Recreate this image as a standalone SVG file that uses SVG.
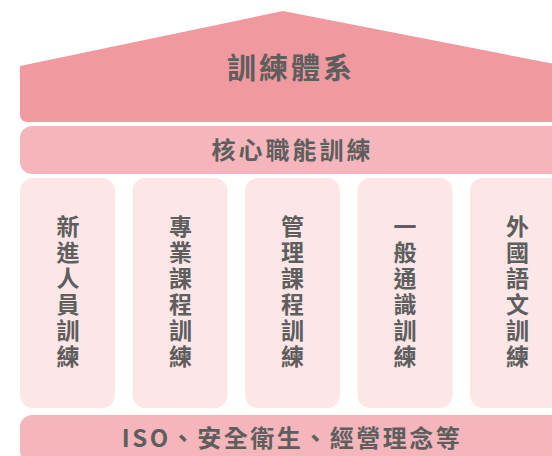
<svg xmlns="http://www.w3.org/2000/svg" width="552" height="456" viewBox="0 0 552 456">
<style>
.t{font-family:"Noto Sans CJK TC","Noto Sans CJK SC",sans-serif;font-weight:700;fill:#5e5e5e;text-anchor:middle}
.col{fill:#fce6e8}
.bar{fill:#f4b6bb}
.v{font-size:23px}
</style>
<rect width="552" height="456" fill="#ffffff"/>
<g id="roof">
<path d="M20,66 L283,11 L565,66 L565,114 Q565,122 557,122 L28,122 Q20,122 20,114 Z" fill="#f0999f"/>
<text class="t" x="291" y="79" font-size="29" letter-spacing="3">訓練體系</text>
</g>
<g id="core">
<rect class="bar" x="20" y="126" width="545" height="48" rx="12"/>
<text class="t" x="292.5" y="159" font-size="24" letter-spacing="3">核心職能訓練</text>
</g>
<g id="col1">
<rect class="col" x="20" y="178" width="95" height="230" rx="13"/>
<text class="t v"><tspan x="68" y="235">新</tspan><tspan x="68" y="261">進</tspan><tspan x="68" y="287">人</tspan><tspan x="68" y="313">員</tspan><tspan x="68" y="339">訓</tspan><tspan x="68" y="365">練</tspan></text>
</g>
<g id="col2">
<rect class="col" x="132.5" y="178" width="95" height="230" rx="13"/>
<text class="t v"><tspan x="180.5" y="235">專</tspan><tspan x="180.5" y="261">業</tspan><tspan x="180.5" y="287">課</tspan><tspan x="180.5" y="313">程</tspan><tspan x="180.5" y="339">訓</tspan><tspan x="180.5" y="365">練</tspan></text>
</g>
<g id="col3">
<rect class="col" x="245" y="178" width="95" height="230" rx="13"/>
<text class="t v"><tspan x="292.5" y="235">管</tspan><tspan x="292.5" y="261">理</tspan><tspan x="292.5" y="287">課</tspan><tspan x="292.5" y="313">程</tspan><tspan x="292.5" y="339">訓</tspan><tspan x="292.5" y="365">練</tspan></text>
</g>
<g id="col4">
<rect class="col" x="357.5" y="178" width="95" height="230" rx="13"/>
<text class="t v"><tspan x="405" y="235">一</tspan><tspan x="405" y="261">般</tspan><tspan x="405" y="287">通</tspan><tspan x="405" y="313">識</tspan><tspan x="405" y="339">訓</tspan><tspan x="405" y="365">練</tspan></text>
</g>
<g id="col5">
<rect class="col" x="470" y="178" width="95" height="230" rx="13"/>
<text class="t v"><tspan x="517.5" y="235">外</tspan><tspan x="517.5" y="261">國</tspan><tspan x="517.5" y="287">語</tspan><tspan x="517.5" y="313">文</tspan><tspan x="517.5" y="339">訓</tspan><tspan x="517.5" y="365">練</tspan></text>
</g>
<g id="base">
<rect class="bar" x="20" y="415" width="545" height="48" rx="12"/>
<text class="t" x="292" y="447" font-size="24" letter-spacing="2.5">ISO、安全衛生、經營理念等</text>
</g>
<g id="connectors"></g>
</svg>
